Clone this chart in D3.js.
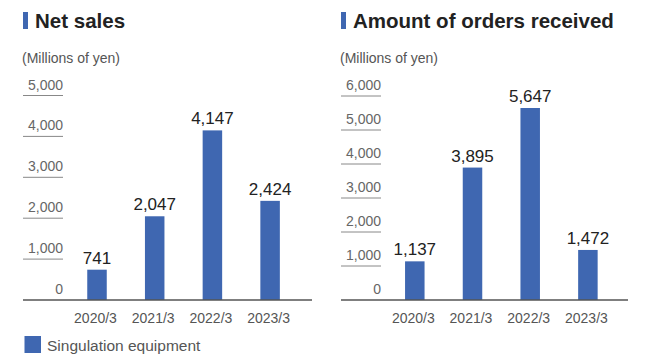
<!DOCTYPE html>
<html>
<head>
<meta charset="utf-8">
<script src="https://cdn.jsdelivr.net/npm/d3@7"></script>
<style>
  body { margin: 0; background: #fff; }
  text { font-family: "Liberation Sans", Arial, sans-serif; }
</style>
</head>
<body>
<svg id="chart" width="647" height="356"></svg>
<script>
// Data
const years = ["2020/3", "2021/3", "2022/3", "2023/3"];
const netSales = [741, 2047, 4147, 2424];
const ordersReceived = [1137, 3895, 5647, 1472];
const salesTicks = [0, 1000, 2000, 3000, 4000, 5000];
const orderTicks = [0, 1000, 2000, 3000, 4000, 5000, 6000];
const legendLabel = "Singulation equipment";

const barColor = "#3f67b1";
const svg = d3.select("#chart");
const fmt = d3.format(",");

// Panel layout
const panels = [
  { title: "Net sales", values: netSales, ticks: salesTicks, max: 5000,
    left: 23, right: 312, tickEnd: 63, yTop: 95.5, band: [58.4, 308.7] },
  { title: "Amount of orders received", values: ordersReceived, ticks: orderTicks, max: 6000,
    left: 341, right: 628, tickEnd: 381, yTop: 96, band: [376.2, 626.5] }
];
const baseY = 300;

function drawPanel(p) {
  const g = svg.append("g");
  const y = d3.scaleLinear().domain([0, p.max]).range([baseY, p.yTop]);
  const x = d3.scaleBand().domain(years).range(p.band)
    .paddingInner(0.662).paddingOuter(0.5);

  // title
  g.append("rect")
    .attr("x", p.left).attr("y", 12)
    .attr("width", 5).attr("height", 17)
    .attr("fill", barColor);
  g.append("text")
    .attr("x", p.left + 12).attr("y", 27.5)
    .attr("font-size", 20.5).attr("font-weight", "bold")
    .attr("fill", "#222")
    .text(p.title);

  g.append("text")
    .attr("x", p.left - 1).attr("y", 63)
    .attr("font-size", 14).attr("fill", "#555")
    .text("(Millions of yen)");

  // y ticks: short underline segments beneath labels
  g.selectAll(".tick").data(p.ticks.filter(d => d > 0)).join("line")
    .attr("x1", p.left).attr("x2", p.tickEnd)
    .attr("y1", d => y(d)).attr("y2", d => y(d))
    .attr("stroke", "#888").attr("stroke-width", 1);
  g.selectAll(".tlabel").data(p.ticks).join("text")
    .attr("x", p.tickEnd).attr("y", d => y(d) - 6)
    .attr("text-anchor", "end")
    .attr("font-size", 14).attr("fill", "#666")
    .text(d => fmt(d));

  // bars
  g.selectAll(".bar").data(p.values).join("rect")
    .attr("x", (d, i) => x(years[i]))
    .attr("y", d => y(d))
    .attr("width", x.bandwidth())
    .attr("height", d => baseY - y(d))
    .attr("fill", barColor);

  // value labels
  g.selectAll(".val").data(p.values).join("text")
    .attr("x", (d, i) => x(years[i]) + x.bandwidth() / 2)
    .attr("y", d => y(d) - 6)
    .attr("text-anchor", "middle")
    .attr("font-size", 17).attr("fill", "#222")
    .text(d => fmt(d));

  // baseline
  g.append("line")
    .attr("x1", p.left).attr("x2", p.right)
    .attr("y1", baseY).attr("y2", baseY)
    .attr("stroke", "#555").attr("stroke-width", 1.5);

  // category labels
  g.selectAll(".cat").data(years).join("text")
    .attr("x", d => x(d) + x.bandwidth() / 2 - 1.5)
    .attr("y", 323)
    .attr("text-anchor", "middle")
    .attr("font-size", 14).attr("fill", "#555")
    .text(d => d);
}

panels.forEach(drawPanel);

// legend
svg.append("rect")
  .attr("x", 24.5).attr("y", 336)
  .attr("width", 16.5).attr("height", 17)
  .attr("fill", barColor);
svg.append("text")
  .attr("x", 47).attr("y", 350.5)
  .attr("font-size", 15.5).attr("fill", "#555")
  .text(legendLabel);
</script>
</body>
</html>
